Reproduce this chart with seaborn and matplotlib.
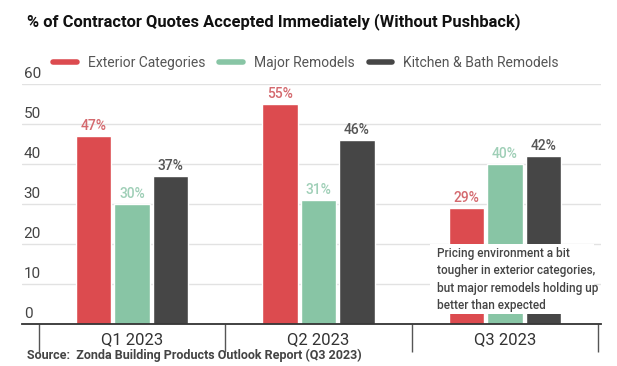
import matplotlib
matplotlib.use("Agg")
import matplotlib.pyplot as plt
import seaborn as sns
import pandas as pd
from matplotlib.lines import Line2D
from matplotlib.patches import Rectangle

quarters = ["Q1 2023", "Q2 2023", "Q3 2023"]
series = ["Exterior Categories", "Major Remodels", "Kitchen & Bath Remodels"]
exterior = [47, 55, 29]
major = [30, 31, 40]
kitchen = [37, 46, 42]
y_ticks = [0, 10, 20, 30, 40, 50, 60]
title = "% of Contractor Quotes Accepted Immediately (Without Pushback)"
note = ("Pricing environment a bit\ntougher in exterior categories,\n"
        "but major remodels holding up\nbetter than expected")
source = "Source:  Zonda Building Products Outlook Report (Q3 2023)"

colors = ["#dc4b4f", "#88c5a5", "#464646"]
label_colors = ["#d4696e", "#9fcfb7", "#555555"]

df = pd.DataFrame({
    "quarter": quarters * 3,
    "series": [s for s in series for _ in quarters],
    "value": exterior + major + kitchen,
})

sns.set_theme(style="white")
plt.rcParams['font.family'] = ['Roboto', 'DejaVu Sans']

fig = plt.figure(figsize=(6.17, 3.66), dpi=100)
ax = fig.add_axes([22/617, 42/366, 579/617, 240/366])
sns.barplot(data=df, x="quarter", y="value", hue="series", order=quarters,
            hue_order=series, palette=colors, width=0.62, gap=0.08,
            saturation=1, ax=ax, legend=False, zorder=2)

ax.set_xlim(-0.59, 2.516)
ax.set_ylim(0, 60)

for v in y_ticks:
    if v > 0:
        ax.axhline(v, color="#e2e2e2", lw=1, zorder=0)
    ax.text(0.003, v + 0.8, str(v), transform=ax.get_yaxis_transform(),
            ha="left", va="bottom", fontsize=11, color="#444444")
ax.set_yticks([])
ax.set_ylabel("")
ax.set_xlabel("")

for cont, c in zip(ax.containers, label_colors):
    ax.bar_label(cont, labels=[f"{int(b.get_height())}%" for b in cont],
                 padding=2, fontsize=10, color=c, fontweight="medium")

ax.set_xticks(range(len(quarters)))
ax.set_xticklabels(quarters, fontsize=12, color="#333333")
ax.tick_params(axis="x", which="major", length=0, pad=6)
ax.set_xticks([-0.5, 0.5, 1.5, 2.5], minor=True)
ax.tick_params(axis="x", which="minor", length=20, width=1, color="#555555",
               bottom=True)
for s in ["top", "right", "left"]:
    ax.spines[s].set_visible(False)
ax.spines["bottom"].set_color("#333333")
ax.spines["bottom"].set_linewidth(1.3)

ax.add_patch(Rectangle((1.60, 2.6), 0.88, 17.3, facecolor="white",
                       edgecolor="none", zorder=3))
ax.text(1.636, 19.3, note, ha="left", va="top", fontsize=8.5,
        color="#444444", fontweight="medium", linespacing=1.45, zorder=4)

fig.text(27/617, 1 - 22/366, title, ha="left", va="center",
         fontsize=11.9, fontweight="bold", color="#111111")
fig.text(27/617, 1 - 355/366, source, ha="left", va="center",
         fontsize=9, fontweight="bold", color="#444444")

handles = [Line2D([0], [0], color=c, lw=4) for c in colors]
fig.legend(handles, series, loc="center", bbox_to_anchor=(0.496, 1 - 63/366),
           ncol=3, frameon=False, fontsize=10, handlelength=1.7,
           columnspacing=1.0, handletextpad=0.8, labelcolor="#555555")

fig.savefig("out.png", dpi=100)
